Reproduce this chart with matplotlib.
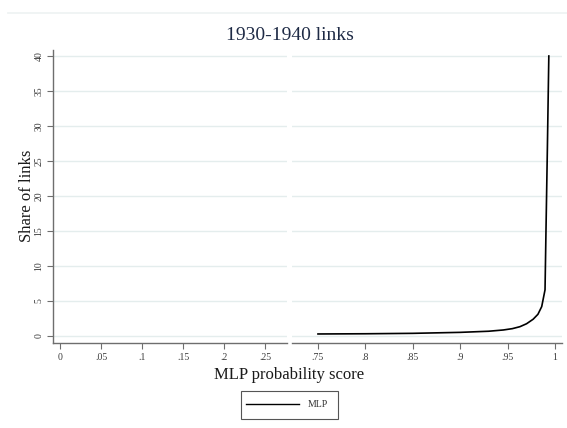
import matplotlib
matplotlib.use("Agg")
import matplotlib.pyplot as plt
from matplotlib.lines import Line2D

# MLP probability score curve (right-hand segment of the score axis)
scores = [0.750, 0.800, 0.850, 0.900, 0.930, 0.9455, 0.955, 0.963, 0.970,
          0.977, 0.982, 0.986, 0.9895, 0.9905, 0.992, 0.9935]
share = [0.29, 0.32, 0.38, 0.52, 0.68, 0.86, 1.05, 1.33, 1.75,
         2.4, 3.1, 4.2, 6.6, 15.0, 27.0, 40.0]

y_ticks = [0, 5, 10, 15, 20, 25, 30, 35, 40]
left_ticks = [0, 0.05, 0.10, 0.15, 0.20, 0.25]
left_labels = ["0", ".05", ".1", ".15", ".2", ".25"]
right_ticks = [0.75, 0.80, 0.85, 0.90, 0.95, 1.0]
right_labels = [".75", ".8", ".85", ".9", ".95", "1"]

title = "1930-1940 links"
x_label = "MLP probability score"
y_label = "Share of links"
series_name = "MLP"

plt.rcParams["font.family"] = ["Liberation Serif", "DejaVu Serif"]

W, H = 567, 428
fig = plt.figure(figsize=(W / 100, H / 100), dpi=100)
fig.patch.set_facecolor("white")

def fx(px):
    return px / W

def fy(py):
    return 1 - py / H

grid_col = "#e4eded"
axis_col = "#6e6e6e"
tick_col = "#3a3a3a"

top, bottom = 50, 343
ax_l = fig.add_axes([fx(53), fy(bottom), fx(287 - 53), (bottom - top) / H])
ax_r = fig.add_axes([fx(292), fy(bottom), fx(562 - 292), (bottom - top) / H])

for ax in (ax_l, ax_r):
    ax.set_ylim(-1.0, 40.857)
    ax.set_yticks(y_ticks)
    ax.grid(axis="y", color=grid_col, linewidth=1.0)
    ax.set_axisbelow(True)
    for s in ("top", "right"):
        ax.spines[s].set_visible(False)
    ax.spines["bottom"].set_color(axis_col)
    ax.spines["bottom"].set_linewidth(1.0)
    ax.tick_params(axis="x", colors=axis_col, labelcolor=tick_col,
                   length=4, width=0.8, labelsize=7, pad=3)
    ax.set_facecolor("none")

ax_l.set_xlim(-0.00854, 0.2768)
ax_l.set_xticks(left_ticks)
ax_l.set_xticklabels(left_labels)
ax_l.spines["left"].set_color(axis_col)
ax_l.spines["left"].set_linewidth(1.0)
ax_l.tick_params(axis="y", colors=axis_col, labelcolor=tick_col,
                 length=4, width=0.8, labelsize=7, pad=3)
for lbl in ax_l.get_yticklabels():
    lbl.set_rotation(90)
    lbl.set_va("center")

ax_r.set_xlim(0.7226, 1.0074)
ax_r.set_xticks(right_ticks)
ax_r.set_xticklabels(right_labels)
ax_r.spines["left"].set_visible(False)
ax_r.tick_params(axis="y", left=False, labelleft=False)

ax_r.plot(scores, share, color="black", linewidth=1.2, solid_joinstyle="round")

# faint band line above the title
fig.add_artist(Line2D([fx(8), 1.0], [fy(13), fy(13)], color="#edf2f2",
                      linewidth=1.2))

fig.text(fx(290), fy(35), title, ha="center", va="center",
         fontsize=14, color="#1e2a45")
fig.text(fx(289), fy(375), x_label, ha="center", va="center",
         fontsize=12, color="#1a1a1a")
fig.text(fx(27), fy(196), y_label, ha="center", va="center",
         rotation=90, fontsize=12, color="#1a1a1a")

# legend box
lx0, lx1, ly0, ly1 = 241, 338, 391, 419
fig.add_artist(plt.Rectangle((fx(lx0), fy(ly1)), fx(lx1 - lx0), (ly1 - ly0) / H,
                             fill=False, edgecolor="#555555", linewidth=0.8,
                             transform=fig.transFigure))
fig.add_artist(Line2D([fx(246), fx(299)], [fy(404), fy(404)],
                      color="black", linewidth=1.0))
fig.text(fx(308), fy(404.5), series_name, ha="left", va="center",
         fontsize=7, color="#333333")

fig.savefig("out.png", dpi=100, facecolor="white")
